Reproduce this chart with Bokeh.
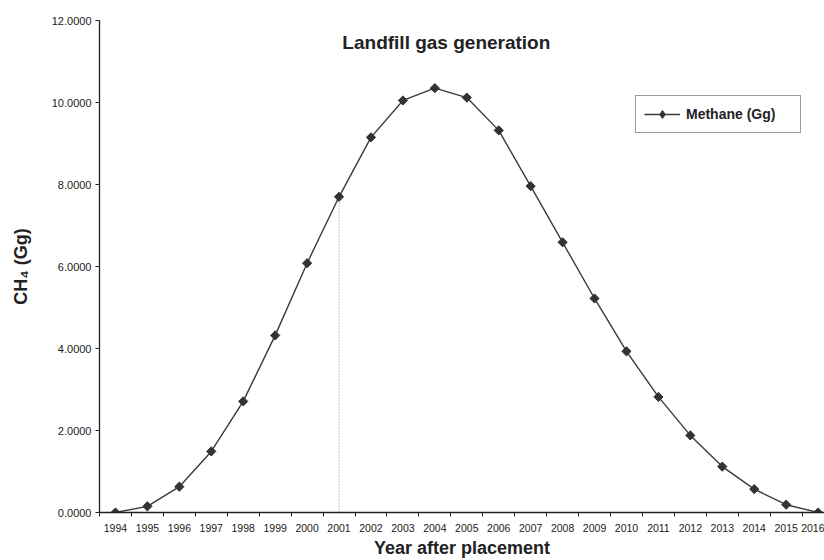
from bokeh.plotting import figure
from bokeh.models import (Range1d, FixedTicker, NumeralTickFormatter, Label,
                          LegendItem, Legend, ColumnDataSource)
from bokeh.embed import file_html
from bokeh.resources import INLINE
import numpy as np

# ---- data ----
years = list(range(1994, 2017))
methane = [0.00, 0.15, 0.63, 1.49, 2.71, 4.32, 6.08, 7.70, 9.15, 10.05, 10.35,
           10.12, 9.32, 7.96, 6.59, 5.22, 3.93, 2.82, 1.88, 1.12, 0.57, 0.19, 0.00]
y_ticks = [0, 2, 4, 6, 8, 10, 12]
highlight_year = 2001
series_name = "Methane (Gg)"
title_text = "Landfill gas generation"
x_label = "Year after placement"
y_label = "CH\u2084 (Gg)"

FONT = "Liberation Sans"
TXT = "#222222"
LINE = "#3a3a3a"

p = figure(width=824, height=560, output_backend="svg", toolbar_location=None,
           x_range=Range1d(1993.5, 2016.2), y_range=Range1d(0, 12),
           min_border_left=99, min_border_right=0, min_border_top=20,
           min_border_bottom=48)
p.outline_line_color = None
p.grid.visible = False
p.background_fill_color = "white"
p.border_fill_color = "white"

# dotted drop line
hy = methane[years.index(highlight_year)]
p.segment(x0=[highlight_year], y0=[0], x1=[highlight_year], y1=[hy],
          line_color="#8a8a8a", line_width=1, line_dash="1 2")

src = ColumnDataSource(data=dict(x=years, y=methane))
ln = p.line("x", "y", source=src, line_color=LINE, line_width=1.4)
# small diamonds (used for the legend glyph), hidden under the markers
leg_marker = p.scatter("x", "y", source=src, marker="diamond", size=7,
                       fill_color="#333333", line_color="#333333")
p.scatter("x", "y", source=src, marker="square", size=6.5, angle=np.pi / 4,
          fill_color="#333333", line_color="#333333")

lg = Legend(items=[LegendItem(label=series_name, renderers=[ln, leg_marker])])
p.add_layout(lg, "center")

# x axis
xa = p.xaxis[0]
xa.ticker = FixedTicker(ticks=years, minor_ticks=[y - 0.5 for y in years] + [years[-1] + 0.5])
xa.major_tick_in = 0
xa.major_tick_out = 0
xa.minor_tick_in = 0
xa.minor_tick_out = 4
xa.minor_tick_line_color = TXT
xa.axis_line_color = TXT
xa.axis_line_width = 1.3
xa.major_label_standoff = 7
xa.major_label_text_font = FONT
xa.major_label_text_font_size = "10.5px"
xa.major_label_text_color = TXT
xa.axis_label = x_label
xa.axis_label_text_font = FONT
xa.axis_label_text_font_size = "18px"
xa.axis_label_text_font_style = "bold"
xa.axis_label_text_color = TXT
xa.axis_label_standoff = 3

# y axis
ya = p.yaxis[0]
ya.ticker = FixedTicker(ticks=y_ticks)
ya.formatter = NumeralTickFormatter(format="0.0000")
ya.minor_tick_line_color = None
ya.major_tick_in = 0
ya.major_tick_out = 4
ya.major_tick_line_color = TXT
ya.axis_line_color = TXT
ya.axis_line_width = 1.3
ya.major_label_standoff = 4
ya.major_label_text_font = FONT
ya.major_label_text_font_size = "11px"
ya.major_label_text_color = TXT
ya.axis_label = y_label
ya.axis_label_text_font = FONT
ya.axis_label_text_font_size = "18px"
ya.axis_label_text_font_style = "bold"
ya.axis_label_text_color = TXT
ya.axis_label_standoff = 18

# title inside the plot
p.add_layout(Label(x=2004.36, y=11.46, text=title_text, text_align="center",
                   text_baseline="middle", text_font=FONT, text_font_size="19px",
                   text_font_style="bold", text_color=TXT))

# legend styling
lg.location = (536, 379)
lg.padding = 8
lg.margin = 0
lg.glyph_width = 36
lg.glyph_height = 20
lg.label_height = 20
lg.label_width = 106
lg.label_standoff = 6
lg.label_text_font = FONT
lg.label_text_font_size = "14px"
lg.label_text_font_style = "bold"
lg.label_text_color = TXT
lg.border_line_color = "#333333"
lg.border_line_width = 1.2
lg.background_fill_color = "white"
lg.background_fill_alpha = 1.0

open("out.html", "w").write(file_html(p, INLINE))
